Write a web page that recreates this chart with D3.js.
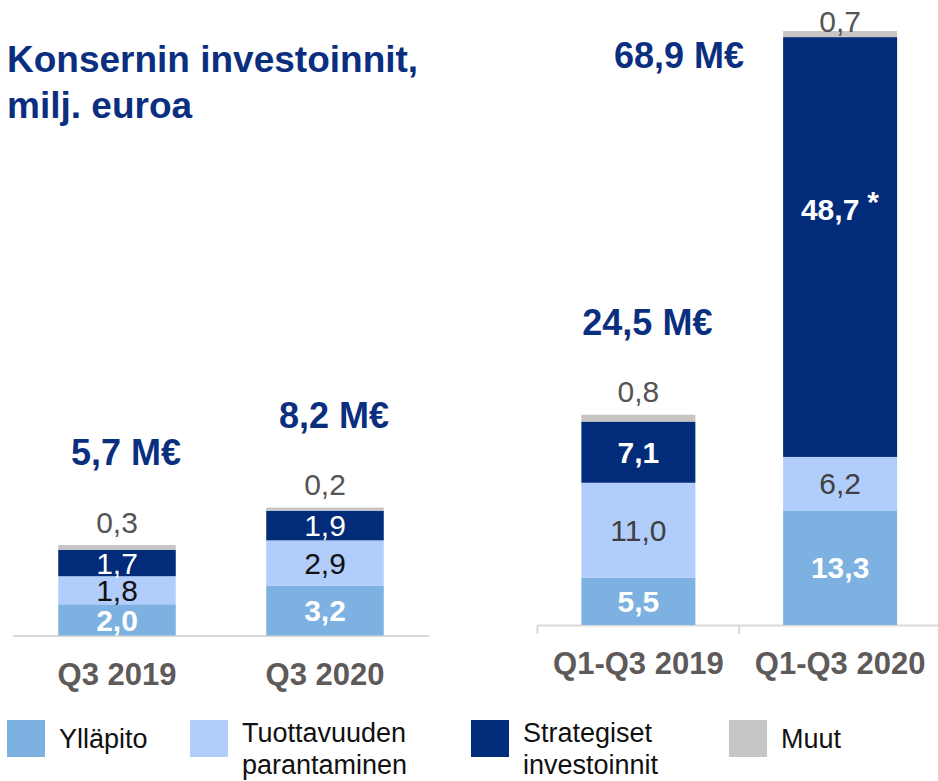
<!DOCTYPE html>
<html>
<head>
<meta charset="utf-8">
<script src="https://cdn.jsdelivr.net/npm/d3@7"></script>
<style>
  html, body { margin: 0; padding: 0; background: #fff; }
  svg { display: block; font-family: Arial, "Liberation Sans", sans-serif; }
</style>
</head>
<body>
<svg id="chart" width="938" height="781"></svg>
<script>
// categories for the two panels
const quarterCats = ['Q3 2019', 'Q3 2020'];
const ytdCats = ['Q1-Q3 2019', 'Q1-Q3 2020'];

// series values, in order Q3 2019, Q3 2020, Q1-Q3 2019, Q1-Q3 2020
const yllapito = [2.0, 3.2, 5.5, 13.3];
const tuottavuus = [1.8, 2.9, 11.0, 6.2];
const strategiset = [1.7, 1.9, 7.1, 48.7];
const muut = [0.3, 0.2, 0.8, 0.7];

// totals as shown on the slide
const totals = ['5,7', '8,2', '24,5', '68,9'];
const notes = ['', '', '', '*'];   // footnote marks on the strategic segment

const seriesNames = ['Ylläpito', 'Tuottavuuden parantaminen', 'Strategiset investoinnit', 'Muut'];

const colors = {
    yllapito: '#7cb1e1',
    tuottavuus: '#b1cdfb',
    strategiset: '#022b79',
    muut: '#c7c6c4',
};
const navy = '#0b2f7f';
const catGrey = '#5f5a5a';

const fi = d3.formatLocale({ decimal: ',', thousands: ' ', grouping: [3], currency: ['', '€'] });
const fmt = fi.format('.1f');

const svg = d3.select('#chart');

// rows per bar
const rows = yllapito.map((v, i) => ({
    yllapito: v,
    tuottavuus: tuottavuus[i],
    strategiset: strategiset[i],
    muut: muut[i],
    total: totals[i],
    note: notes[i],
}));

const keys = ['yllapito', 'tuottavuus', 'strategiset', 'muut'];
const stack = d3.stack().keys(keys);

// //////////////////////////////////////////////////////////////////////////
// Title
svg.append('text')
    .attr('x', 7).attr('y', 72)
    .attr('font-size', 37).attr('font-weight', 'bold')
    .attr('fill', navy)
    .text('Konsernin investoinnit,');
svg.append('text')
    .attr('x', 7).attr('y', 118)
    .attr('font-size', 37).attr('font-weight', 'bold')
    .attr('fill', navy)
    .text('milj. euroa');

// //////////////////////////////////////////////////////////////////////////
// Panels
const panels = [
    {
        cats: quarterCats, data: rows.slice(0, 2),
        xRange: [13, 429], base: 635.5, pxPerUnit: 15.6, ticks: false,
        style: {
            yllapito: { fill: '#fff', weight: 'bold' },
            tuottavuus: { fill: '#111', weight: 'normal' },
            strategiset: { fill: '#fff', weight: 'normal' },
        },
    },
    {
        cats: ytdCats, data: rows.slice(2, 4),
        xRange: [537.5, 941], base: 625, pxPerUnit: 8.62, ticks: true,
        style: {
            yllapito: { fill: '#fff', weight: 'bold' },
            tuottavuus: { fill: '#404040', weight: 'normal' },
            strategiset: { fill: '#fff', weight: 'bold' },
        },
    },
];

panels.forEach((p) => {
    const x = d3.scaleBand().domain(p.cats).range(p.xRange).padding(0);
    const y = d3.scaleLinear()
        .domain([0, 70])
        .range([p.base, p.base - 70 * p.pxPerUnit]);
    const barW = x.bandwidth() * 0.565;
    const g = svg.append('g');

    // axis line
    g.append('line')
        .attr('x1', p.xRange[0]).attr('x2', p.xRange[1])
        .attr('y1', p.base + 0.5).attr('y2', p.base + 0.5)
        .attr('stroke', '#d9d9d9').attr('stroke-width', 2);
    if (p.ticks) {
        p.cats.forEach((c) => {
            g.append('line')
                .attr('x1', x(c)).attr('x2', x(c))
                .attr('y1', p.base).attr('y2', p.base + 9)
                .attr('stroke', '#d9d9d9').attr('stroke-width', 2);
        });
    }

    const stacked = stack(p.data);

    // segments
    stacked.forEach((s) => {
        g.selectAll(null)
            .data(s.map((d, i) => ({ d, cat: p.cats[i] })))
            .enter()
            .append('rect')
            .attr('x', (r) => x(r.cat) + (x.bandwidth() - barW) / 2)
            .attr('width', barW)
            .attr('y', (r) => y(r.d[1]))
            .attr('height', (r) => y(r.d[0]) - y(r.d[1]))
            .attr('fill', colors[s.key]);
    });

    // inside labels
    stacked.forEach((s) => {
        if (s.key === 'muut') return;
        const st = p.style[s.key];
        s.forEach((d, i) => {
            const cx = x(p.cats[i]) + x.bandwidth() / 2;
            const top = y(d[1]);
            const h = y(d[0]) - top;
            const cy = h > 200 ? top + h * 0.41 : top + h / 2;
            const t = g.append('text')
                .attr('x', cx).attr('y', cy).attr('dy', '0.36em')
                .attr('text-anchor', 'middle')
                .attr('font-size', 30)
                .attr('font-weight', st.weight)
                .attr('fill', st.fill)
                .text(fmt(d.data[s.key]));
            if (s.key === 'strategiset' && d.data.note) {
                const w = t.node().getComputedTextLength();
                t.attr('x', cx - 10);
                g.append('text')
                    .attr('x', cx - 10 + w / 2 + 8).attr('y', cy).attr('dy', '0.1em')
                    .attr('font-size', 30).attr('font-weight', 'bold')
                    .attr('fill', '#fff')
                    .text(d.data.note);
            }
        });
    });

    // muut labels above bar and totals
    const last = stacked[stacked.length - 1];
    last.forEach((d, i) => {
        const cx = x(p.cats[i]) + x.bandwidth() / 2;
        const top = y(d[1]);
        g.append('text')
            .attr('x', cx).attr('y', Math.max(top - 23, 21)).attr('dy', '0.36em')
            .attr('text-anchor', 'middle')
            .attr('font-size', 30)
            .attr('fill', '#555')
            .text(fmt(d.data.muut));

        const tl = g.append('text')
            .attr('font-size', 36).attr('font-weight', 'bold')
            .attr('fill', navy)
            .attr('dy', '0.36em')
            .text(d.data.total + ' M€');
        if (top - 93 < 40) {
            // no room above: put the total beside the bar
            tl.attr('text-anchor', 'end')
                .attr('x', cx - barW / 2 - 39)
                .attr('y', top + 24);
        } else {
            tl.attr('text-anchor', 'middle')
                .attr('x', cx + 9)
                .attr('y', top - 93);
        }
    });

    // category labels
    p.cats.forEach((c) => {
        g.append('text')
            .attr('x', x(c) + x.bandwidth() / 2)
            .attr('y', p.base + 49)
            .attr('text-anchor', 'middle')
            .attr('font-size', 31).attr('font-weight', 'bold')
            .attr('fill', catGrey)
            .text(c);
    });
});

// //////////////////////////////////////////////////////////////////////////
// Legend
const legendX = [7, 190, 471, 729];
const legend = svg.append('g');
keys.forEach((k, i) => {
    legend.append('rect')
        .attr('x', legendX[i]).attr('y', 720)
        .attr('width', 38).attr('height', 37)
        .attr('fill', colors[k]);
    const words = seriesNames[i].split(' ');
    const txt = legend.append('text')
        .attr('font-size', 27)
        .attr('fill', '#111');
    const baseY = words.length > 1 ? 742 : 748;
    words.forEach((w, j) => {
        txt.append('tspan')
            .attr('x', legendX[i] + 52)
            .attr('y', baseY + j * 32)
            .text(w);
    });
});
</script>
</body>
</html>
